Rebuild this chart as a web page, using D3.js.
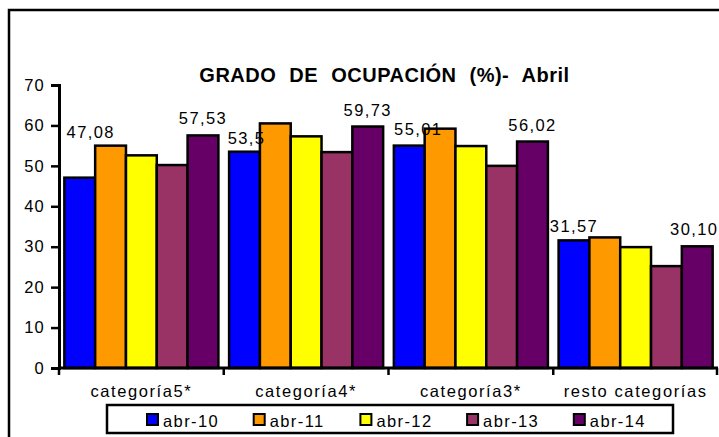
<!DOCTYPE html>
<html>
<head>
<meta charset="utf-8">
<script src="https://cdn.jsdelivr.net/npm/d3@7"></script>
<style>
  body { margin: 0; background: #fff; }
  svg { display: block; font-family: "Liberation Sans", Arial, sans-serif; }
</style>
</head>
<body>
<svg width="719" height="437"></svg>
<script>
// data
const categories = ['categoría5*', 'categoría4*', 'categoría3*', 'resto categorías'];
const series = ['abr-10', 'abr-11', 'abr-12', 'abr-13', 'abr-14'];
const values = [
  [47.08, 53.5, 55.01, 31.57],
  [55.0, 60.5, 59.2, 32.3],
  [52.6, 57.3, 54.9, 29.9],
  [50.2, 53.4, 50.0, 25.2],
  [57.53, 59.73, 56.02, 30.10]
];
const colors = ['#0000ff', '#ff9900', '#ffff00', '#993366', '#660066'];
const yTicks = [0, 10, 20, 30, 40, 50, 60, 70];
// which series carry a value label
const labelled = ['abr-10', 'abr-14'];

const svg = d3.select('svg');
const fmt = v => d3.format('.2f')(v).replace('.', ',').replace(/,50$/, ',5');

const margin = { top: 85, left: 59, right: 1, bottom: 69 };
const width = 719, height = 437;

// outer frame (runs off the right and bottom edge)
svg.append('rect')
  .attr('x', 9).attr('y', 10)
  .attr('width', 800).attr('height', 500)
  .attr('fill', 'none').attr('stroke', '#000').attr('stroke-width', 2.5);

const x0 = d3.scaleBand()
  .domain(categories)
  .range([margin.left, width - margin.right])
  .paddingInner(0.065)
  .paddingOuter(0.0325);

const x1 = d3.scaleBand()
  .domain(series)
  .range([0, x0.bandwidth()]);

const y = d3.scaleLinear()
  .domain([0, 70])
  .range([height - margin.bottom, margin.top]);

// title
svg.append('text')
  .attr('x', 384.5).attr('y', 82)
  .attr('text-anchor', 'middle')
  .attr('font-weight', 'bold')
  .attr('font-size', 20)
  .attr('letter-spacing', 0.5)
  .attr('word-spacing', 7)
  .text('GRADO DE OCUPACIÓN (%)- Abril');

// bars
const groups = svg.append('g').selectAll('g')
  .data(series)
  .join('g')
  .attr('fill', (d, i) => colors[i]);

groups.selectAll('rect')
  .data((s, i) => categories.map((c, j) => ({ s, c, v: values[i][j] })))
  .join('rect')
  .attr('x', d => x0(d.c) + x1(d.s))
  .attr('y', d => y(d.v))
  .attr('width', x1.bandwidth())
  .attr('height', d => y(0) - y(d.v))
  .attr('stroke', '#000')
  .attr('stroke-width', 2.5);

// value labels (a few were dragged by hand in the original)
const nudge = {
  'abr-10|categoría5*': [11, -29],
  'abr-10|categoría4*': [2, 3],
  'abr-10|categoría3*': [9, 0],
  'abr-10|resto categorías': [0, 3],
  'abr-14|resto categorías': [-3, 0]
};
const labelData = [];
series.forEach((s, i) => {
  if (!labelled.includes(s)) return;
  categories.forEach((c, j) => labelData.push({ s, c, v: values[i][j] }));
});
const off = d => nudge[d.s + '|' + d.c] || [0, 0];
svg.append('g').selectAll('text')
  .data(labelData)
  .join('text')
  .attr('x', d => x0(d.c) + x1(d.s) + x1.bandwidth() / 2 + off(d)[0])
  .attr('y', d => y(d.v) - 11 + off(d)[1])
  .attr('text-anchor', 'middle')
  .attr('font-size', 16.5)
  .attr('letter-spacing', 1.4)
  .text(d => fmt(d.v));

// y axis
const yAxis = svg.append('g')
  .attr('transform', `translate(${margin.left},0)`)
  .call(d3.axisLeft(y).tickValues(yTicks).tickSize(8).tickPadding(6));
yAxis.select('.domain').attr('stroke-width', 3);
yAxis.selectAll('.tick line').attr('stroke-width', 2.5);
yAxis.selectAll('.tick text')
  .attr('font-size', 16.5)
  .attr('font-family', '"Liberation Sans", Arial, sans-serif')
  .attr('fill', '#000')
  .attr('letter-spacing', 1.2);

// x axis: line with ticks at the category boundaries
const xg = svg.append('g');
xg.append('line')
  .attr('x1', x0.range()[0]).attr('x2', x0.range()[1])
  .attr('y1', y(0)).attr('y2', y(0))
  .attr('stroke', '#000').attr('stroke-width', 3);
const bounds = categories.map(c => x0(c) - x0.step() * x0.paddingInner() / 2)
  .concat([x0.range()[1] - 1]);
xg.selectAll('line.tk')
  .data(bounds)
  .join('line')
  .attr('class', 'tk')
  .attr('x1', d => d).attr('x2', d => d)
  .attr('y1', y(0)).attr('y2', y(0) + 7)
  .attr('stroke', '#000').attr('stroke-width', 2.5);
xg.selectAll('text')
  .data(categories)
  .join('text')
  .attr('x', d => x0(d) + x0.bandwidth() / 2)
  .attr('y', 397)
  .attr('text-anchor', 'middle')
  .attr('font-size', 16.5)
  .attr('letter-spacing', 1.6)
  .text(d => d);

// legend
const legend = svg.append('g');
legend.append('rect')
  .attr('x', 107).attr('y', 405)
  .attr('width', 566).attr('height', 28)
  .attr('fill', '#fff').attr('stroke', '#000').attr('stroke-width', 2.5);
const lx = d3.scalePoint()
  .domain(series)
  .range([147, 147 + 4 * 106.7]);
const items = legend.selectAll('g.item')
  .data(series)
  .join('g')
  .attr('class', 'item')
  .attr('transform', d => `translate(${lx(d)},0)`);
items.append('rect')
  .attr('x', 0).attr('y', 414)
  .attr('width', 11).attr('height', 11)
  .attr('fill', (d, i) => colors[i])
  .attr('stroke', '#000').attr('stroke-width', 2);
items.append('text')
  .attr('x', 16).attr('y', 427)
  .attr('font-size', 16.5)
  .attr('letter-spacing', 1.4)
  .text(d => d);
</script>
</body>
</html>
